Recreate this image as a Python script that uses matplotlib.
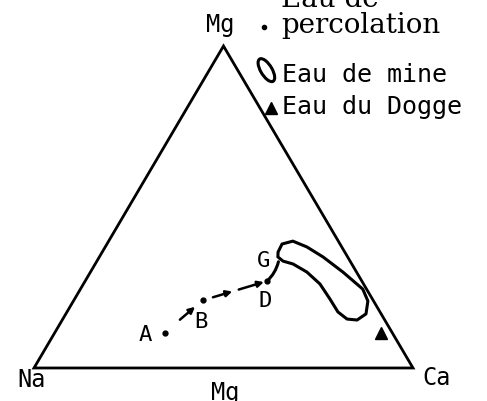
import numpy as np
import matplotlib.pyplot as plt
from matplotlib.patches import Polygon, Ellipse

# compositions in % (Na, Mg, Ca)
point_names = ["A", "B", "D", "G"]
point_na = [60, 45, 25, 19]
point_mg = [11, 21, 27, 33]
point_ca = [29, 34, 48, 48]

# Eau du Dogger
dogger_na = [3]
dogger_mg = [11]
dogger_ca = [86]

# outline of the mine water field
mine_mg = [36.0, 38.5, 39.4, 37.6, 34.5, 29.8, 24.5, 20.8, 16.8, 14.9,
           15.2, 17.4, 21.4, 26.1, 29.8, 32.3, 33.2, 34.5]
mine_ca = [46.4, 46.2, 48.6, 53.2, 59.0, 66.6, 74.5, 77.7, 79.2, 77.8,
           75.0, 71.5, 67.4, 62.4, 57.1, 52.2, 49.1, 47.1]

H = np.sqrt(3) / 2


def tern(na, mg, ca):
    na, mg, ca = (np.asarray(v, dtype=float) for v in (na, mg, ca))
    tot = na + mg + ca
    return (ca + 0.5 * mg) / tot, H * mg / tot


fig = plt.figure(figsize=(4.87, 4.02), dpi=100)
ax = fig.add_axes([0, 0, 1, 1])
ax.set_xlim(-0.0897, 1.1953)
ax.set_ylim(-0.0888, 0.9925)
ax.axis("off")

mono = "DejaVu Sans Mono"

# triangle frame
ax.add_patch(Polygon([(0, 0), (1, 0), (0.5, H)], closed=True, fill=False,
                     ec="black", lw=2.0, joinstyle="miter"))

ax.text(0.5 - 0.009, H + 0.06, "Mg", family=mono, fontsize=17, ha="center", va="center")
ax.text(-0.005, -0.030, "Na", family=mono, fontsize=17, ha="center", va="center")
ax.text(1.063, -0.024, "Ca", family=mono, fontsize=17, ha="center", va="center")
ax.text(0.504, -0.032, "Mg", family=mono, fontsize=17, ha="center", va="top")

# sample points
px, py = tern(point_na, point_mg, point_ca)
ax.plot(px[:3], py[:3], "o", color="black", ms=3.5)
offsets = {"A": (-14, -1), "B": (-1, -15), "D": (-1, -14), "G": (-11, 1.5)}
for name, x, y in zip(point_names, px, py):
    ax.annotate(name, (x, y), xytext=offsets[name], textcoords="offset points",
                family=mono, fontsize=16, ha="center", va="center")


def seg(p0, p1, t0, t1, style):
    a = (p0[0] + t0 * (p1[0] - p0[0]), p0[1] + t0 * (p1[1] - p0[1]))
    b = (p0[0] + t1 * (p1[0] - p0[0]), p0[1] + t1 * (p1[1] - p0[1]))
    ax.annotate("", xy=b, xytext=a,
                arrowprops=dict(arrowstyle=style, color="black", lw=1.8,
                                mutation_scale=9, shrinkA=0, shrinkB=0))


pts = list(zip(px, py))
seg(pts[0], pts[1], 0.40, 0.80, "-|>")
seg(pts[1], pts[2], 0.16, 0.46, "-|>")
seg(pts[1], pts[2], 0.56, 0.95, "-|>")
ax.annotate("", xy=pts[3], xytext=pts[2],
            arrowprops=dict(arrowstyle="-", color="black", lw=2.2,
                            connectionstyle="arc3,rad=0.15", shrinkA=0, shrinkB=0))

# mine water field
mine_na = 100 - np.array(mine_mg) - np.array(mine_ca)
mx, my = tern(mine_na, mine_mg, mine_ca)
ax.add_patch(Polygon(np.column_stack([mx, my]), closed=True, fill=False,
                     ec="black", lw=2.2, joinstyle="round"))

# Dogger water
dx, dy = tern(dogger_na, dogger_mg, dogger_ca)
ax.plot(dx, dy, "^", color="black", ms=9)

# legend
tr = ax.transAxes
ax.text(0.576, 0.982, "Eau de", family="DejaVu Serif", fontsize=20,
        transform=tr, ha="left", va="baseline")
ax.text(0.578, 0.918, "percolation", family="DejaVu Serif", fontsize=20,
        transform=tr, ha="left", va="baseline")
ax.plot([0.542], [0.930], "o", color="black", ms=3, transform=tr)

ax.add_patch(Ellipse((0.547, 0.823), 0.024, 0.062, angle=25, transform=tr,
                     fill=False, ec="black", lw=2.2))
ax.text(0.579, 0.813, "Eau de mine", family=mono, fontsize=18,
        transform=tr, ha="left", va="center")

ax.plot([0.556], [0.729], "^", color="black", ms=9, transform=tr)
ax.text(0.579, 0.733, "Eau du Dogge", family=mono, fontsize=18,
        transform=tr, ha="left", va="center")

fig.savefig("out.png", dpi=100)
